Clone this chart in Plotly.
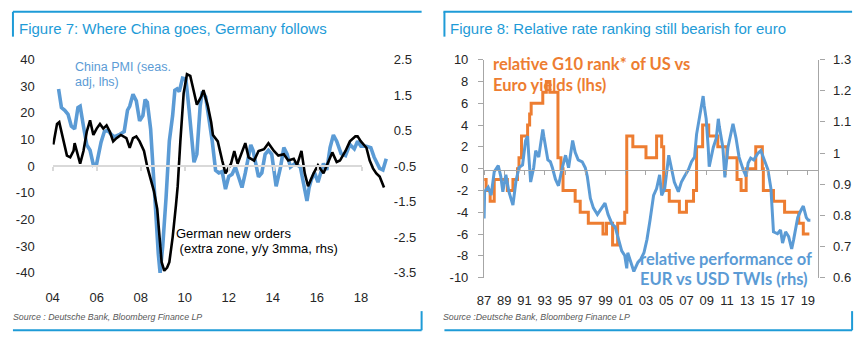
import plotly.graph_objects as go

W, H = 864, 344

# ---------------- Figure 7: China PMI vs German new orders ----------------
pmi_year = [2004.27, 2004.4, 2004.55, 2004.7, 2004.85, 2005.0, 2005.15, 2005.25, 2005.4, 2005.55,
            2005.7, 2005.85, 2006.0, 2006.2, 2006.35, 2006.5, 2006.65, 2006.8, 2007.05, 2007.25,
            2007.4, 2007.5, 2007.65, 2007.8, 2007.95, 2008.1, 2008.2, 2008.3, 2008.45, 2008.55,
            2008.65, 2008.8, 2008.88, 2009.0, 2009.15, 2009.3, 2009.45, 2009.55, 2009.65, 2009.75,
            2009.9, 2010.05, 2010.2, 2010.35, 2010.42, 2010.55, 2010.7, 2010.8, 2010.95, 2011.1,
            2011.25, 2011.4, 2011.55, 2011.7, 2011.85, 2012.0, 2012.15, 2012.3, 2012.45, 2012.6,
            2012.75, 2013.0, 2013.1, 2013.35, 2013.5, 2013.65, 2013.8, 2013.95, 2014.15, 2014.35,
            2014.5, 2014.65, 2014.8, 2015.0, 2015.25, 2015.45, 2015.55, 2015.65, 2015.75, 2015.9,
            2016.05, 2016.3, 2016.45, 2016.6, 2016.75, 2016.9, 2017.1, 2017.3, 2017.5, 2017.7,
            2017.85, 2018.0, 2018.25, 2018.45, 2018.6, 2018.85, 2019.0, 2019.15]
pmi_value = [29, 22, 21, 19.5, 15, 14, 22, 22.5, 15, 8,
             6, 0.5, 1, 9, 13, 13.5, 12, 11, 12, 13,
             21, 22.5, 27, 24.5, 17, 19, 25, 24, 14, 0,
             -15, -33, -40, -30, -12, 9.5, 19, 28.5, 29, 28,
             33, 32.7, 21, 7, 1.5, 4.5, 22.5, 28, 26, 17.7,
             9.3, -1.5, -2.5, -2, -8.6, -3.8, -3, -0.3, -4, -8,
             -2.5, 8, 6, -4, -2.5, 4.5, 6, 4.5, -7.5, -0.3,
             7, 4.5, -0.3, 1, -0.3, -9, -13, -8, -5, -2.5,
             -6, 1, -1.4, 7, 11.7, 9.4, 4.7, 4, 8.2, 6.5,
             9.4, 7.5, 7.5, 7, 3.4, -0.8, -1.4, 2.8]

orders_year = [2004.03, 2004.2, 2004.3, 2004.5, 2004.65, 2004.8, 2004.95, 2005.0, 2005.15, 2005.25,
               2005.4, 2005.55, 2005.7, 2005.85, 2006.0, 2006.15, 2006.3, 2006.45, 2006.6, 2006.75,
               2006.9, 2007.1, 2007.35, 2007.5, 2007.65, 2007.8, 2007.95, 2008.15, 2008.3, 2008.45,
               2008.6, 2008.75, 2008.85, 2008.95, 2009.07, 2009.2, 2009.3, 2009.45, 2009.6, 2009.68,
               2009.8, 2009.95, 2010.1, 2010.25, 2010.4, 2010.55, 2010.75, 2010.85, 2011.05, 2011.2,
               2011.28, 2011.5, 2011.7, 2011.85, 2012.1, 2012.25, 2012.4, 2012.55, 2012.75, 2012.9,
               2013.15, 2013.35, 2013.6, 2013.8, 2014.05, 2014.25, 2014.5, 2014.7, 2014.95, 2015.1,
               2015.3, 2015.45, 2015.6, 2015.85, 2016.05, 2016.3, 2016.55, 2016.7, 2016.9, 2017.05,
               2017.3, 2017.5, 2017.75, 2017.85, 2018.0, 2018.25, 2018.4, 2018.55, 2018.7, 2018.85,
               2019.05]
orders_value = [0.11, 0.69, 0.74, 0.2, -0.2, -0.25, -0.07, 0.15, -0.16, -0.43,
                -0.07, 0.47, 0.79, 0.38, 0.56, 0.69, 0.56, 0.65, 0.47, 0.2,
                0.29, 0.38, 0.29, 0.02, 0.29, 0.34, 0.2, -0.07, -0.52, -0.88,
                -1.2, -1.7, -2.5, -3.2, -3.44, -3.35, -3.2, -2.5, -1.6, -1.06,
                0.2, 1.55, 2.09, 2.04, 1.64, 1.23, 1.46, 1.64, 1.19, 0.74,
                0.38, 0.2, -0.34, -0.7, -0.43, -0.07, -0.43, -0.16, 0.15, -0.25,
                -0.34, -0.07, -0.02, 0.15, -0.07, -0.2, -0.16, -0.34, -0.29, -0.47,
                -0.07, -0.7, -1.06, -0.7, -0.47, -0.7, -0.34, -0.11, -0.38, -0.34,
                -0.07, 0.2, 0.34, 0.34, 0.2, 0.02, -0.34, -0.56, -0.7, -0.79,
                -1.1]

f7_year_ticks = [2004, 2006, 2008, 2010, 2012, 2014, 2016, 2018]
f7_year_text = ["04", "06", "08", "10", "12", "14", "16", "18"]
f7_lhs_ticks = [40, 30, 20, 10, 0, -10, -20, -30, -40]
f7_lhs_text = ["40", "30", "20", "10", "0", "-10", "-20", "-30", "-40"]
f7_rhs_ticks = [2.5, 1.5, 0.5, -0.5, -1.5, -2.5, -3.5]
f7_rhs_text = ["2.5", "1.5", "0.5", "-0.5", "-1.5", "-2.5", "-3.5"]

# ---------------- Figure 8: relative rate rank vs EUR/USD TWIs ----------------
rank_year = [1987.0, 1987.2, 1987.6, 1988.0, 1989.3, 1989.85, 1990.3, 1990.45, 1990.7, 1991.3,
             1991.5, 1991.65, 1992.8, 1993.15, 1993.5, 1994.3, 1994.6, 1994.8, 1996.0, 1996.5,
             1997.3, 1998.75, 1999.1, 1999.7, 2000.2, 2000.9, 2001.1, 2001.7, 2003.0, 2004.05,
             2004.55, 2004.75, 2005.3, 2006.3, 2007.0, 2007.7, 2008.0, 2008.6, 2009.2, 2010.1,
             2011.0, 2012.0, 2012.4, 2012.9, 2013.85, 2014.5, 2014.6, 2015.6, 2016.7, 2018.1,
             2018.55, 2019.15]
rank_value = [-1, -2, -3, -1, -2, -1, 0, 1, 3, 4,
              5, 6, 7, 8, 7, 1, 0, -2, -3, -4,
              -5, -6, -5, -7, -5, -4, 3, 2, 1, 3,
              2, -2, -3, -4, -3, -2, 2, 4, 3, 2,
              1, -1, -2, 0, 2, 0, -2, -3, -4, -5,
              -6, -6]

twi_year = [1987.0, 1987.05, 1987.4, 1987.7, 1988.0, 1988.4, 1988.65, 1988.85, 1989.15, 1989.45,
            1989.85, 1990.15, 1990.45, 1990.8, 1991.1, 1991.3, 1991.4, 1991.6, 1991.9, 1992.1,
            1992.4, 1992.8, 1992.9, 1993.3, 1993.55, 1993.75, 1994.05, 1994.35, 1994.75, 1995.05,
            1995.35, 1995.75, 1996.0, 1996.3, 1996.7, 1997.0, 1997.2, 1997.5, 1997.8, 1998.2,
            1998.45, 1998.95, 1999.25, 1999.65, 1999.95, 2000.25, 2000.6, 2000.9, 2001.1, 2001.2,
            2001.5, 2001.8, 2002.2, 2002.5, 2002.8, 2003.1, 2003.4, 2003.75, 2004.05, 2004.35,
            2004.55, 2004.85, 2005.25, 2005.5, 2005.8, 2006.2, 2006.5, 2006.8, 2007.2, 2007.5,
            2007.8, 2008.0, 2008.2, 2008.5, 2008.65, 2008.75, 2008.95, 2009.15, 2009.25, 2009.65,
            2009.95, 2010.15, 2010.25, 2010.6, 2010.8, 2011.1, 2011.4, 2011.6, 2011.9, 2012.2,
            2012.6, 2012.9, 2013.1, 2013.35, 2013.65, 2014.05, 2014.35, 2014.65, 2015.05, 2015.35,
            2015.5, 2015.6, 2016.0, 2016.3, 2016.5, 2016.8, 2017.1, 2017.4, 2017.6, 2018.0,
            2018.3, 2018.55, 2018.85, 2019.05, 2019.25]
twi_value = [0.79, 0.876, 0.89, 0.865, 0.94, 0.96, 0.925, 0.876, 0.93, 0.876,
             0.833, 0.91, 0.953, 0.962, 1.04, 1.054, 0.999, 0.907, 0.953, 1.008,
             0.987, 1.076, 1.054, 0.978, 0.972, 0.953, 0.916, 0.895, 0.956, 0.993,
             0.953, 1.04, 1.002, 0.978, 0.972, 0.953, 0.925, 0.855, 0.824, 0.803,
             0.815, 0.839, 0.803, 0.772, 0.763, 0.723, 0.686, 0.671, 0.63, 0.68,
             0.65, 0.62, 0.649, 0.66, 0.68, 0.723, 0.784, 0.864, 0.886, 0.93,
             0.864, 0.886, 0.993, 0.956, 0.907, 0.876, 0.907, 0.925, 0.947, 0.972,
             0.987, 1.06, 1.10, 1.162, 1.183, 1.153, 1.11, 1.018, 0.956, 1.018,
             1.048, 1.11, 1.085, 1.018, 0.922, 1.018, 1.06, 1.094, 1.048, 0.987,
             0.947, 0.925, 0.968, 0.984, 0.978, 0.999, 1.008, 0.984, 0.947, 0.886,
             0.793, 0.747, 0.741, 0.753, 0.711, 0.747, 0.732, 0.692, 0.723, 0.793,
             0.815, 0.83, 0.793, 0.784, 0.784]

f8_year_ticks = list(range(1987, 2020, 2))
f8_year_text = ["87", "89", "91", "93", "95", "97", "99", "01", "03",
                "05", "07", "09", "11", "13", "15", "17", "19"]
f8_lhs_ticks = [10, 8, 6, 4, 2, 0, -2, -4, -6, -8, -10]
f8_lhs_text = ["10", "8", "6", "4", "2", "0", "-2", "-4", "-6", "-8", "-10"]
f8_rhs_ticks = [1.3, 1.2, 1.1, 1.0, 0.9, 0.8, 0.7, 0.6]
f8_rhs_text = ["1.3", "1.2", "1.1", "1", "0.9", "0.8", "0.7", "0.6"]

# ---------------- styling ----------------
DB_BLUE = "#1E9BD7"
SERIES_BLUE = "#5B9BD5"
ORANGE = "#ED7D31"
AXIS_GREY = "#A6A6A6"
BODY_FONT = "Liberation Sans, Arial, sans-serif"
LABEL_FONT = "Lato, Liberation Sans, sans-serif"


def fx(px):
    return px / W


def fy(py):
    return 1 - py / H


fig = go.Figure()

# zero-line axes first (no data, they only carry the axis line and tick marks)
fig.add_trace(go.Scatter(x=[], y=[], xaxis="x3", yaxis="y", showlegend=False, hoverinfo="skip"))
fig.add_trace(go.Scatter(x=[], y=[], xaxis="x4", yaxis="y3", showlegend=False, hoverinfo="skip"))

# Figure 7 series
fig.add_trace(go.Scatter(x=pmi_year, y=pmi_value, mode="lines", xaxis="x", yaxis="y",
                         line=dict(color=SERIES_BLUE, width=3.6), showlegend=False,
                         hoverinfo="skip"))
fig.add_trace(go.Scatter(x=orders_year, y=orders_value, mode="lines", xaxis="x", yaxis="y2",
                         line=dict(color="black", width=2.6), showlegend=False,
                         hoverinfo="skip"))

# Figure 8 series
fig.add_trace(go.Scatter(x=rank_year, y=rank_value, mode="lines", xaxis="x2", yaxis="y3",
                         line=dict(color=ORANGE, width=3, shape="hv"), showlegend=False,
                         hoverinfo="skip"))
fig.add_trace(go.Scatter(x=twi_year, y=twi_value, mode="lines", xaxis="x2", yaxis="y4",
                         line=dict(color=SERIES_BLUE, width=3), showlegend=False,
                         hoverinfo="skip"))

tick_font = dict(family=BODY_FONT, size=13, color="#262626")

f7_left, f7_right = 46, 388
f7_top, f7_bottom = 55, 278
f8_left, f8_right = 481, 818
f8_top, f8_bottom = 55, 283

fig.update_layout(
    width=W, height=H,
    margin=dict(l=0, r=0, t=0, b=0, pad=0),
    paper_bgcolor="white", plot_bgcolor="rgba(0,0,0,0)",
    font=dict(family=BODY_FONT, size=13, color="#262626"),
    showlegend=False,
    xaxis=dict(domain=[fx(f7_left), fx(f7_right)], anchor="y",
               range=[2004, 2004 + (f7_right - f7_left) / 22.2],
               tickvals=f7_year_ticks, ticktext=f7_year_text, tickfont=tick_font,
               showgrid=False, zeroline=False, showline=False, ticks="",
               ticklabelstandoff=15),
    yaxis=dict(domain=[fy(f7_bottom), fy(f7_top)], anchor="x", range=[-40, 40],
               tickvals=f7_lhs_ticks, ticktext=f7_lhs_text, tickfont=tick_font,
               showgrid=False, zeroline=False, showline=False, ticks="",
               ticklabelstandoff=17),
    yaxis2=dict(overlaying="y", side="right", anchor="x", range=[-3.5, 2.5],
                tickvals=f7_rhs_ticks, ticktext=f7_rhs_text, tickfont=tick_font,
                showgrid=False, zeroline=False, showline=False, ticks="",
                ticklabelstandoff=1),
    xaxis3=dict(domain=[fx(f7_left), fx(358)], anchor="free", position=fy(166),
                range=[2004, 2018], tickvals=f7_year_ticks, showticklabels=False,
                showgrid=False, zeroline=False, showline=True, linecolor="#D9D9D9",
                linewidth=2, ticks="outside", ticklen=4, tickcolor="#D9D9D9", tickwidth=1.5),
    xaxis2=dict(domain=[fx(f8_left), fx(f8_right)], anchor="y3",
                range=[1987, 1987 + (f8_right - f8_left) / 10.2],
                tickvals=f8_year_ticks, ticktext=f8_year_text, tickfont=tick_font,
                showgrid=False, zeroline=False, showline=False, ticks="",
                ticklabelstandoff=13),
    yaxis3=dict(domain=[fy(f8_bottom), fy(f8_top)], anchor="x2", range=[-10, 10],
                tickvals=f8_lhs_ticks, ticktext=f8_lhs_text, tickfont=tick_font,
                showgrid=False, zeroline=False, showline=True, linecolor=AXIS_GREY,
                linewidth=1.3, ticks="outside", ticklen=5, tickcolor=AXIS_GREY,
                ticklabelstandoff=7),
    yaxis4=dict(overlaying="y3", side="right", anchor="x2", range=[0.6, 1.3],
                tickvals=f8_rhs_ticks, ticktext=f8_rhs_text, tickfont=tick_font,
                showgrid=False, zeroline=False, showline=True, linecolor=AXIS_GREY,
                linewidth=1.3, ticks="outside", ticklen=5, tickcolor=AXIS_GREY,
                ticklabelstandoff=6),
    xaxis4=dict(domain=[fx(f8_left), fx(f8_right)], anchor="free", position=fy(170),
                range=[1987, 1987 + (f8_right - f8_left) / 10.2], tickvals=f8_year_ticks,
                showticklabels=False, showgrid=False, zeroline=False, showline=True,
                linecolor=AXIS_GREY, linewidth=1.3, ticks="outside", ticklen=4,
                tickcolor=AXIS_GREY),
)

# panel frames
frame = dict(color=DB_BLUE, width=2)
for x0, y0, x1, y1 in [(6, 5, 418, 5), (6, 5, 6, 31), (6, 338, 418, 338), (418, 318, 418, 338),
                       (440, 5, 852, 5), (441, 5, 441, 31), (441, 338, 852, 338),
                       (852, 318, 852, 338)]:
    fig.add_shape(type="line", xref="paper", yref="paper",
                  x0=fx(x0), y0=fy(y0), x1=fx(x1), y1=fy(y1), line=frame)


def text(px, py, s, size, color, family=BODY_FONT, anchor="left"):
    fig.add_annotation(x=fx(px), y=fy(py), xref="paper", yref="paper", text=s,
                       showarrow=False, xanchor=anchor, yanchor="middle",
                       font=dict(family=family, size=size, color=color), borderpad=0)


# titles
text(11, 22, "Figure 7: Where China goes, Germany follows", 15, DB_BLUE)
text(446, 22, "Figure 8: Relative rate ranking still bearish for euro", 15, DB_BLUE)

# series labels, Figure 7
text(68, 63, "China PMI (seas.", 12.5, SERIES_BLUE)
text(68, 78, "adj, lhs)", 12.5, SERIES_BLUE)
text(169, 237, "German new orders", 13, "black")
text(169, 252, " (extra zone, y/y 3mma, rhs)", 13, "black")

# series labels, Figure 8
text(489, 60, "<b>relative G10 rank* of US vs</b>", 16.5, ORANGE, LABEL_FONT)
text(489, 82, "<b>Euro yields (lhs)</b>", 16.5, ORANGE, LABEL_FONT)
text(637, 263, "<b>relative performance of</b>", 16.5, SERIES_BLUE, LABEL_FONT)
text(637, 284, "<b>EUR vs USD TWIs (rhs)</b>", 16.5, SERIES_BLUE, LABEL_FONT)

# sources
text(5, 324, "<i>Source : Deutsche Bank, Bloomberg Finance LP</i>", 8.8, "#595959")
text(439, 324, "<i>Source :Deutsche Bank, Bloomberg Finance LP</i>", 8.8, "#595959")

fig.write_html("out.html")
